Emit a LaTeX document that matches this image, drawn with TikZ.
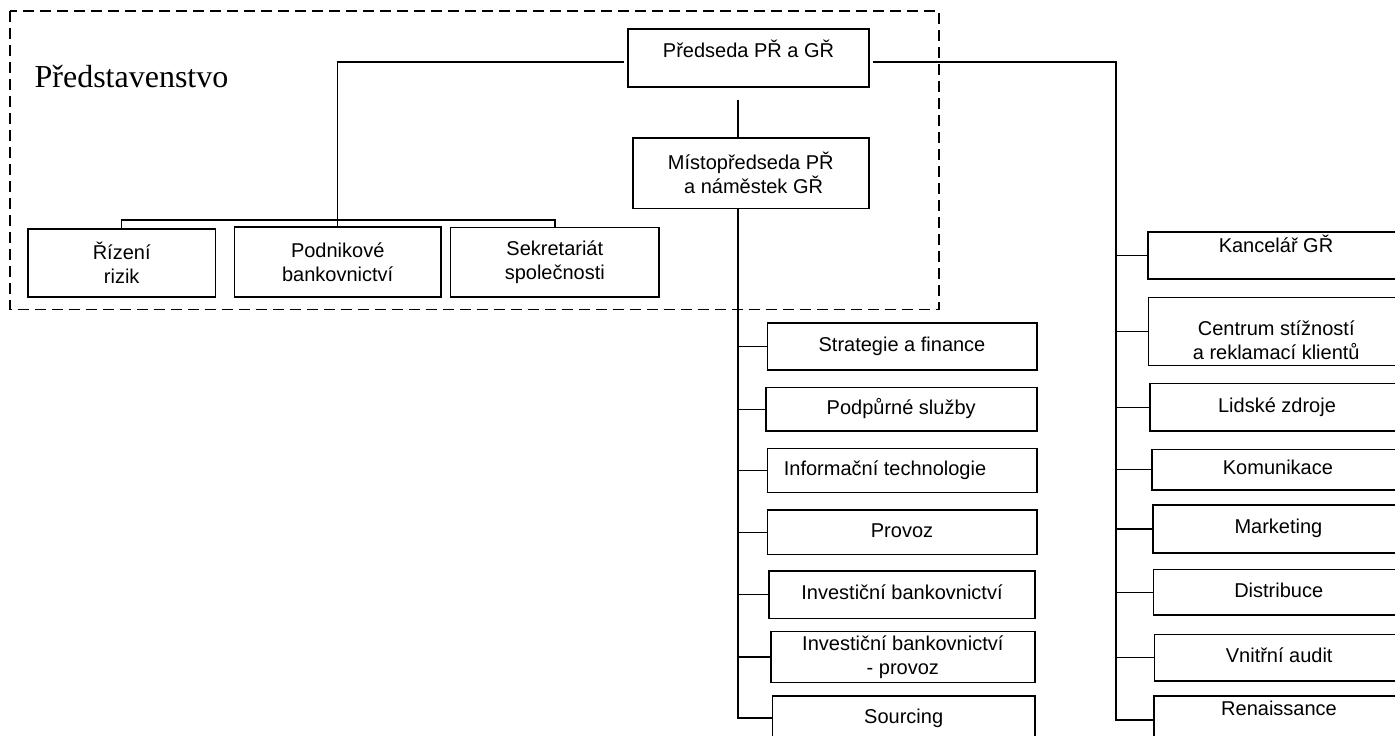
\documentclass[tikz,border=0pt]{standalone}
\usepackage{fontspec}
\setmainfont{Liberation Sans}
\newfontfamily\boardfont{Liberation Serif}
\usepackage{tikz}
\usetikzlibrary{positioning}

\tikzset{
	unit/.style={draw, line width=0.8pt, align=center, inner sep=2pt},
	oneline/.style={text height=7pt, text depth=2pt},
	link/.style={line width=0.7pt}
}

\begin{document}
\begin{tikzpicture}[x=0.5pt, y=-0.5pt]
				\useasboundingbox (0,0) rectangle (1395,735);
				\draw [line width=0.6pt, dash pattern=on 5.5pt off 3pt] (10,11) rectangle (939,309.5);
				\node[font=\boardfont\fontsize{16}{19}\selectfont, inner sep=0pt] (board) at (131.5,77) {Představenstvo};

				% vedeni
				\node[unit, oneline, text depth=7.8pt, minimum width=120.5pt, minimum height=29pt] (chair) at (748.5,58) {Předseda PŘ a GŘ};
				\node[unit, minimum width=118pt, minimum height=35.3pt] (vice) at (750.8,173) {Místopředseda PŘ\\\ a náměstek GŘ};

				% predstavenstvo
				\node[unit, minimum width=93.6pt, minimum height=34pt] (riz) at (121.7,262.7) {Řízení\\rizik};
				\node[unit, minimum width=103.3pt, minimum height=35pt] (podn) at (337.7,262) {Podnikové\\bankovnictví};
				\node[unit, minimum width=104.2pt, minimum height=34.7pt] (sekr) at (554.8,262) {Sekretariát\\společnosti};

				% misto predsedy
				\node[unit, oneline, minimum width=134.7pt, minimum height=23.6pt] (strat) at (902,346.3) {Strategie a finance};
				\node[unit, oneline, minimum width=135.5pt, minimum height=21.8pt] (podp) at (901.2,409.2) {Podpůrné služby};
				\node[unit, oneline, minimum width=134.7pt, minimum height=22pt] (info) at (902,470.3) {Informační technologie\hspace{17pt}};
				\node[unit, oneline, minimum width=134.7pt, minimum height=22.1pt] (prov) at (902,532.2) {Provoz};
				\node[unit, oneline, minimum width=133pt, minimum height=23.6pt] (inv) at (902,594.7) {Investiční bankovnictví};
				\node[unit, minimum width=132.1pt, minimum height=23.7pt] (invp) at (902.8,657) {Investiční bankovnictví\hspace{18pt}\\- provoz};
				\node[unit, oneline, minimum width=131.3pt, minimum height=22pt] (sourc) at (903.7,718) {Sourcing};

				% predseda
				\node[unit, oneline, text depth=10.3pt, minimum width=128pt, minimum height=23.5pt] (kanc) at (1276,255.5) {Kancelář GŘ};
				\node[unit, minimum width=127.8pt, minimum height=34pt] (cent) at (1276.2,331.3) {\rule{0pt}{16.5pt}Centrum stížností\\a reklamací klientů};
				\node[unit, oneline, minimum width=127pt, minimum height=23.8pt] (lids) at (1277,407.2) {Lidské zdroje};
				\node[unit, oneline, minimum width=126.2pt, minimum height=20.3pt] (komu) at (1277.9,469.7) {Komunikace};
				\node[unit, oneline, minimum width=125.7pt, minimum height=23.8pt] (mark) at (1278.4,528.9) {Marketing};
				\node[unit, oneline, minimum width=125.3pt, minimum height=22.8pt] (dist) at (1278.7,592.2) {Distribuce};
				\node[unit, oneline, minimum width=124.8pt, minimum height=23.3pt] (vnit) at (1279.2,657.7) {Vnitřní audit};
				\node[unit, oneline, text depth=11.8pt, minimum width=125pt, minimum height=24pt] (rena) at (1279,720) {Renaissance};

				\coordinate (mbus) at (738,0);
				\coordinate (rbus) at (1116,0);

				\draw[link, shorten <=1.5pt] ([yshift=-2pt]chair.west) -| (podn.north);
				\draw[link] (riz.north) -- ++(0,-8) -| (sekr.north);
				\draw[link, shorten <=6pt] (chair.south -| mbus) -- (vice.north -| mbus);
				\draw[link] (vice.south -| mbus) |- (sourc.west);
				\foreach \n in {strat,podp,info,prov,inv,invp}
					\draw[link] (\n.west -| mbus) -- (\n.west);
				\draw[link, shorten <=1.5pt] ([yshift=-2pt]chair.east) -| (rbus |- rena.west) -- (rena.west);
				\foreach \n in {kanc,cent,lids,komu,mark,dist,vnit}
					\draw[link] (\n.west -| rbus) -- (\n.west);

				\end{tikzpicture}
\end{document}
